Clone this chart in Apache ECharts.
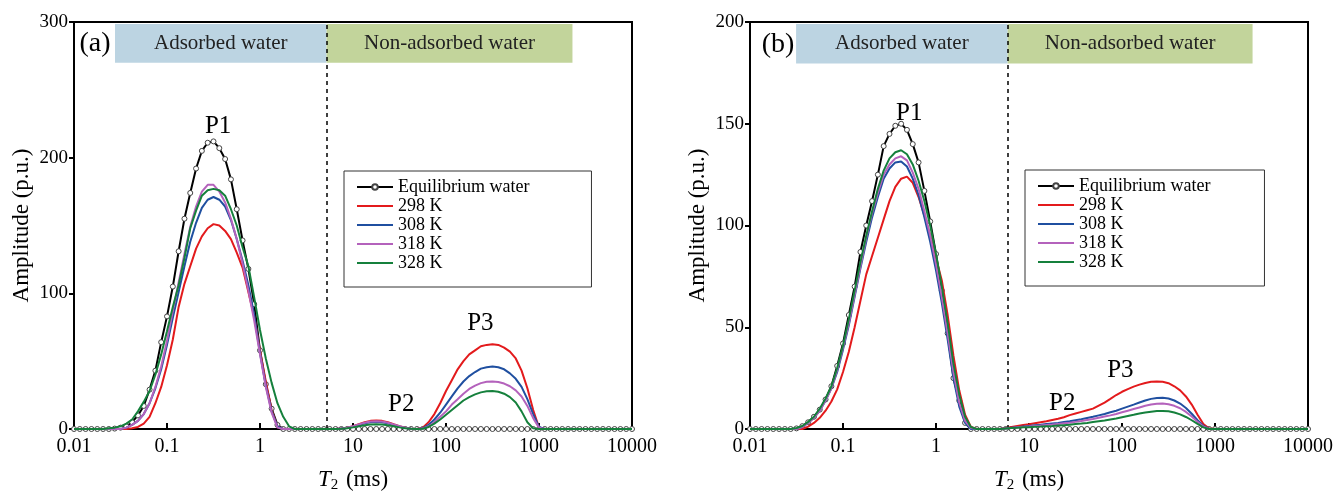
<!DOCTYPE html>
<html>
<head>
<meta charset="utf-8">
<title>T2 spectra</title>
<script src="https://cdn.jsdelivr.net/npm/echarts@6/dist/echarts.min.js"></script>
<style>
  html, body { margin: 0; padding: 0; background: #fff; }
  #mychart { width: 1337px; height: 498px; }
</style>
</head>
<body>
<div id="mychart"></div>
<script>
// T2 grid (ms), 16 points per decade
const t2 = [
  0.01, 0.01155, 0.01334, 0.0154, 0.01778, 0.02054, 0.02371, 0.02738, 0.03162, 0.03652, 0.04217, 0.0487, 0.05623, 0.06494, 0.07499, 0.0866,
  0.1, 0.1155, 0.1334, 0.154, 0.1778, 0.2054, 0.2371, 0.2738, 0.3162, 0.3652, 0.4217, 0.487, 0.5623, 0.6494, 0.7499, 0.866,
  1, 1.155, 1.334, 1.54, 1.778, 2.054, 2.371, 2.738, 3.162, 3.652, 4.217, 4.87, 5.623, 6.494, 7.499, 8.66,
  10, 11.55, 13.34, 15.4, 17.78, 20.54, 23.71, 27.38, 31.62, 36.52, 42.17, 48.7, 56.23, 64.94, 74.99, 86.6,
  100, 115.5, 133.4, 154, 177.8, 205.4, 237.1, 273.8, 316.2, 365.2, 421.7, 487, 562.3, 649.4, 749.9, 866,
  1000, 1155, 1334, 1540, 1778, 2054, 2371, 2738, 3162, 3652, 4217, 4870, 5623, 6494, 7499, 8660,
  10000
]

const seriesNames = ['Equilibrium water', '298 K', '308 K', '318 K', '328 K']
const xTicks = [0.01, 0.1, 1, 10, 100, 1000, 10000]
const yTicksA = [0, 100, 200, 300]
const yTicksB = [0, 50, 100, 150, 200]

// panel (a)
const eqA = [
  0, 0, 0, 0, 0, 0, 0, 0.3, 1, 2, 5, 10, 17, 29, 43, 64,
  83, 105, 131, 155, 174, 192, 205, 211, 212, 207, 199, 184, 162, 139, 118, 92,
  58, 33, 15, 3, 0, 0, 0, 0, 0, 0, 0, 0, 0, 0, 0, 0,
  0, 0, 0, 0, 0, 0, 0, 0, 0, 0, 0, 0, 0, 0, 0, 0,
  0, 0, 0, 0, 0, 0, 0, 0, 0, 0, 0, 0, 0, 0, 0, 0,
  0, 0, 0, 0, 0, 0, 0, 0, 0, 0, 0, 0, 0, 0, 0, 0,
  0
]
const k298A = [
  0, 0, 0, 0, 0, 0, 0, 0, 0, 0, 0.5, 1.5, 4, 9, 19, 31,
  47, 66, 90, 107, 120, 133, 142, 148, 151, 150, 146, 140, 130, 119, 101, 83,
  58, 35, 14, 2, 0, 0, 0, 0, 0, 0, 0, 0, 0, 0, 0.3, 1,
  2, 3.5, 5, 6, 6.3, 6, 5, 3.5, 2, 1, 0.2, 0, 1, 5, 11, 19,
  28, 36, 44, 50, 55, 58, 61, 62, 62.5, 62, 60, 57, 52, 43, 30, 14,
  1, 0, 0, 0, 0, 0, 0, 0, 0, 0, 0, 0, 0, 0, 0, 0,
  0
]
const k308A = [
  0, 0, 0, 0, 0, 0, 0, 0, 0, 1, 3, 6, 11, 19, 30, 44,
  62, 82, 101, 120, 138, 152, 163, 169, 171, 169, 164, 154, 140, 124, 106, 84,
  56, 32, 13, 2, 0, 0, 0, 0, 0, 0, 0, 0, 0, 0, 0.3, 0.8,
  1.8, 3, 4.2, 5, 5.3, 5, 4.2, 3, 1.8, 0.8, 0.2, 0, 0.5, 3, 7, 12,
  18, 24, 30, 35, 39, 42, 44.5, 45.5, 46, 45.5, 44, 41, 37, 31, 22, 11,
  1.5, 0, 0, 0, 0, 0, 0, 0, 0, 0, 0, 0, 0, 0, 0, 0,
  0
]
const k318A = [
  0, 0, 0, 0, 0, 0, 0, 0, 0, 1, 3, 6, 11, 19, 31, 46,
  65, 87, 108, 129, 149, 164, 175, 180, 180, 175, 167, 155, 140, 122, 102, 80,
  55, 31, 12, 1, 0, 0, 0, 0, 0, 0, 0, 0, 0, 0, 0.3, 1,
  2, 3.3, 4.6, 5.5, 5.8, 5.5, 4.6, 3.3, 2, 1, 0.2, 0, 0.3, 2, 5, 9,
  13, 18, 22, 26, 29.5, 32, 33.8, 34.8, 35, 34.7, 33.5, 31.5, 28.5, 24, 17, 8,
  1, 0, 0, 0, 0, 0, 0, 0, 0, 0, 0, 0, 0, 0, 0, 0,
  0
]
const k328A = [
  0, 0, 0, 0, 0, 0, 0.5, 1, 2, 4, 7, 13, 20, 28, 40, 55,
  72, 90, 106, 126, 148, 161, 172, 176, 177, 176, 172, 162, 150, 134, 120, 97,
  73, 52, 34, 19, 9, 2, 0, 0, 0, 0, 0, 0, 0, 0, 0.2, 0.6,
  1.2, 2, 2.8, 3.3, 3.5, 3.3, 2.8, 2, 1.2, 0.6, 0.1, 0, 0.2, 1.5, 4, 7,
  10.5, 14, 17.5, 21, 23.5, 25.5, 27, 27.8, 28, 27.5, 26, 23.5, 19.5, 13, 5, 0.5,
  0, 0, 0, 0, 0, 0, 0, 0, 0, 0, 0, 0, 0, 0, 0, 0,
  0
]

// panel (b)
const eqB = [
  0, 0, 0, 0, 0, 0, 0, 0, 0.3, 1.4, 3.3, 6, 9.5, 14.5, 21, 31,
  42, 56, 70, 87, 100, 112, 125, 139, 145, 149, 150, 147, 140, 131, 117, 102,
  86, 68, 47, 25, 14, 3, 0, 0, 0, 0, 0, 0, 0, 0, 0, 0,
  0, 0, 0, 0, 0, 0, 0, 0, 0, 0, 0, 0, 0, 0, 0, 0,
  0, 0, 0, 0, 0, 0, 0, 0, 0, 0, 0, 0, 0, 0, 0, 0,
  0, 0, 0, 0, 0, 0, 0, 0, 0, 0, 0, 0, 0, 0, 0, 0,
  0
]
const k298B = [
  0, 0, 0, 0, 0, 0, 0, 0, 0, 0, 1.2, 3, 5.5, 9, 13.5, 19.5,
  28, 38, 50, 63, 76, 85, 94, 103, 112, 119, 123, 124, 121, 114, 105, 95,
  84, 73, 56, 36, 19, 7, 1, 0, 0, 0, 0, 0, 0.5, 1, 1.5, 2,
  2.3, 2.8, 3.3, 3.8, 4.4, 5, 5.8, 6.8, 7.6, 8.4, 9.2, 10, 11.5, 13, 14.8, 16.7,
  18.3, 19.6, 20.8, 21.8, 22.6, 23.2, 23.4, 23.2, 22.5, 21, 19, 16, 12, 7, 2.5, 0.2,
  0, 0, 0, 0, 0, 0, 0, 0, 0, 0, 0, 0, 0, 0, 0, 0,
  0
]
const k308B = [
  0, 0, 0, 0, 0, 0, 0, 0, 0, 1, 3, 5.5, 9, 14, 20, 28,
  39, 51, 65, 79, 92, 104, 114, 123, 128, 131, 131.5, 129, 123, 115, 104, 92,
  78, 62, 44, 25, 11, 3, 0, 0, 0, 0, 0, 0, 0.3, 0.6, 0.9, 1.2,
  1.5, 1.8, 2.1, 2.4, 2.7, 3, 3.4, 3.8, 4.3, 4.8, 5.4, 6, 6.7, 7.4, 8.2, 9,
  10, 11, 12, 13, 14, 14.8, 15.2, 15.3, 15, 14, 12.5, 10.3, 7.5, 4.3, 1.5, 0,
  0, 0, 0, 0, 0, 0, 0, 0, 0, 0, 0, 0, 0, 0, 0, 0,
  0
]
const k318B = [
  0, 0, 0, 0, 0, 0, 0, 0, 0, 1, 3, 5.5, 9, 14, 20, 29,
  40, 52, 66, 80, 94, 106, 116, 125, 130, 133, 134, 132, 126, 118, 107, 95,
  81, 65, 47, 28, 13, 4, 0.5, 0, 0, 0, 0, 0, 0.3, 0.5, 0.8, 1,
  1.2, 1.5, 1.7, 2, 2.2, 2.5, 2.8, 3.1, 3.5, 3.9, 4.4, 4.9, 5.5, 6.1, 6.7, 7.4,
  8.2, 9, 9.8, 10.6, 11.4, 12, 12.4, 12.5, 12.2, 11.4, 10.2, 8.4, 6.1, 3.5, 1.2, 0,
  0, 0, 0, 0, 0, 0, 0, 0, 0, 0, 0, 0, 0, 0, 0, 0,
  0
]
const k328B = [
  0, 0, 0, 0, 0, 0, 0, 0, 0.5, 1.5, 3.5, 6, 10, 15, 21, 30,
  41, 54, 68, 82, 95, 107, 118, 127, 133, 136, 137, 135, 130, 122, 112, 100,
  86, 70, 52, 32, 17, 6, 1, 0, 0, 0, 0, 0, 0.3, 0.5, 0.6, 0.8,
  0.9, 1.1, 1.2, 1.4, 1.5, 1.7, 1.9, 2.1, 2.4, 2.7, 3, 3.4, 3.8, 4.2, 4.7, 5.2,
  5.8, 6.4, 7, 7.6, 8.1, 8.5, 8.8, 8.9, 8.7, 8.1, 7.2, 5.9, 4.3, 2.5, 0.8, 0,
  0, 0, 0, 0, 0, 0, 0, 0, 0, 0, 0, 0, 0, 0, 0, 0,
  0
]

const serif = 'Liberation Serif'
const colors = ['#000000', '#e31a1c', '#1f4fa0', '#b462bc', '#15803c']

let myChart = echarts.init(document.getElementById('mychart'), null, { renderer: 'canvas' })

function toPairs(values) {
  return t2.map(function (t, i) { return [t, values[i]] })
}

function makeSeries(grid, values, k, extra) {
  let s = {
    name: seriesNames[k],
    type: 'line',
    xAxisIndex: grid,
    yAxisIndex: grid,
    data: toPairs(values),
    symbol: 'none',
    lineStyle: { color: colors[k], width: 2 },
    itemStyle: { color: colors[k] },
    z: 3 + k
  }
  return Object.assign(s, extra || {})
}

function eqSeries(grid, values, marks) {
  return makeSeries(grid, values, 0, {
    symbol: 'circle',
    symbolSize: 5,
    showSymbol: true,
    showAllSymbol: true,
    itemStyle: { color: '#fff', borderColor: '#444', borderWidth: 1 },
    markArea: {
      silent: true,
      label: { show: true, position: 'inside', color: '#222', fontFamily: serif, fontSize: 21 },
      data: [
        [{ name: 'Adsorbed water', xAxis: marks.box[0], yAxis: marks.box[3], itemStyle: { color: '#bcd4e2' } },
          { xAxis: marks.box[1], yAxis: marks.box[4] }],
        [{ name: 'Non-adsorbed water', xAxis: marks.box[1], yAxis: marks.box[3], itemStyle: { color: '#c2d49b' } },
          { xAxis: marks.box[2], yAxis: marks.box[4] }]
      ]
    },
    markLine: {
      silent: true,
      symbol: 'none',
      label: { show: false },
      lineStyle: { color: '#000', type: [4, 4], width: 1.5 },
      data: [{ xAxis: marks.box[1] }]
    },
    markPoint: {
      silent: true,
      symbol: 'circle',
      symbolSize: 0,
      label: { show: true, position: 'inside', formatter: '{b}', color: '#000', fontFamily: serif, fontSize: 25 },
      data: marks.labels
    }
  })
}

function xAxisCfg(grid) {
  return {
    type: 'log',
    logBase: 10,
    gridIndex: grid,
    min: xTicks[0],
    max: xTicks[xTicks.length - 1],
    axisLine: { lineStyle: { color: '#000', width: 2 } },
    axisTick: { inside: true, length: 6, lineStyle: { color: '#000', width: 2 } },
    minorTick: { show: false },
    splitLine: { show: false },
    axisLabel: {
      color: '#000', fontFamily: serif, fontSize: 20, margin: 8,
      formatter: function (v) { return String(+v.toPrecision(4)) }
    },
    name: '{i|T}{s|2} (ms)',
    nameLocation: 'middle',
    nameGap: 38,
    nameTextStyle: {
      color: '#000', fontFamily: serif, fontSize: 23,
      rich: {
        i: { fontFamily: serif, fontStyle: 'italic', fontSize: 23, color: '#000' },
        s: { fontFamily: serif, fontSize: 15, color: '#000', padding: [11, 2, 0, 0] }
      }
    }
  }
}

function yAxisCfg(grid, ticks) {
  return {
    type: 'value',
    gridIndex: grid,
    min: ticks[0],
    max: ticks[ticks.length - 1],
    interval: ticks[1] - ticks[0],
    axisLine: { show: true, lineStyle: { color: '#000', width: 2 } },
    axisTick: { show: true, inside: false, length: 5, lineStyle: { color: '#000', width: 2 } },
    splitLine: { show: false },
    axisLabel: { color: '#000', fontFamily: serif, fontSize: 19, margin: 6 },
    name: 'Amplitude (p.u.)',
    nameLocation: 'middle',
    nameGap: 41,
    nameTextStyle: { color: '#000', fontFamily: serif, fontSize: 23 }
  }
}

function legendCfg(left, top, padRight) {
  return {
    orient: 'vertical',
    left: left,
    top: top,
    selectedMode: false,
    itemWidth: 36,
    itemHeight: 7,
    itemGap: 1,
    padding: [7, padRight, 15, 12],
    borderColor: '#333',
    borderWidth: 1,
    textStyle: { color: '#000', fontFamily: serif, fontSize: 18 },
    data: seriesNames.map(function (n, k) {
      return k === 0 ? { name: n } : { name: n, itemStyle: { opacity: 0 } }
    })
  }
}

const marksA = {
  box: [0.0276, 5.2, 2290, 270, 298.5],
  labels: [
    { name: '(a)', coord: [0.0168, 284], label: { fontSize: 28 } },
    { name: 'P1', coord: [0.355, 223] },
    { name: 'P2', coord: [33, 18] },
    { name: 'P3', coord: [234, 78] }
  ]
}
const marksB = {
  box: [0.0313, 5.9, 2535, 179.6, 199],
  labels: [
    { name: '(b)', coord: [0.02, 189], label: { fontSize: 28 } },
    { name: 'P1', coord: [0.515, 155] },
    { name: 'P2', coord: [22.8, 12.6] },
    { name: 'P3', coord: [96, 28.6] }
  ]
}

let options = {
  backgroundColor: '#fff',
  animation: false,
  grid: [
    { left: 74, top: 22, width: 558, height: 413, show: true, borderColor: '#000', borderWidth: 2 },
    { left: 750, top: 22, width: 558, height: 413, show: true, borderColor: '#000', borderWidth: 2 }
  ],
  xAxis: [xAxisCfg(0), xAxisCfg(1)],
  yAxis: [yAxisCfg(0, yTicksA), yAxisCfg(1, yTicksB)],
  legend: [legendCfg(344, 171, 62), legendCfg(1025, 170, 54)],
  series: [
    eqSeries(0, eqA, marksA),
    makeSeries(0, k298A, 1),
    makeSeries(0, k308A, 2),
    makeSeries(0, k318A, 3),
    makeSeries(0, k328A, 4),
    eqSeries(1, eqB, marksB),
    makeSeries(1, k298B, 1),
    makeSeries(1, k308B, 2),
    makeSeries(1, k318B, 3),
    makeSeries(1, k328B, 4)
  ]
}

myChart.setOption(options)
</script>
</body>
</html>
